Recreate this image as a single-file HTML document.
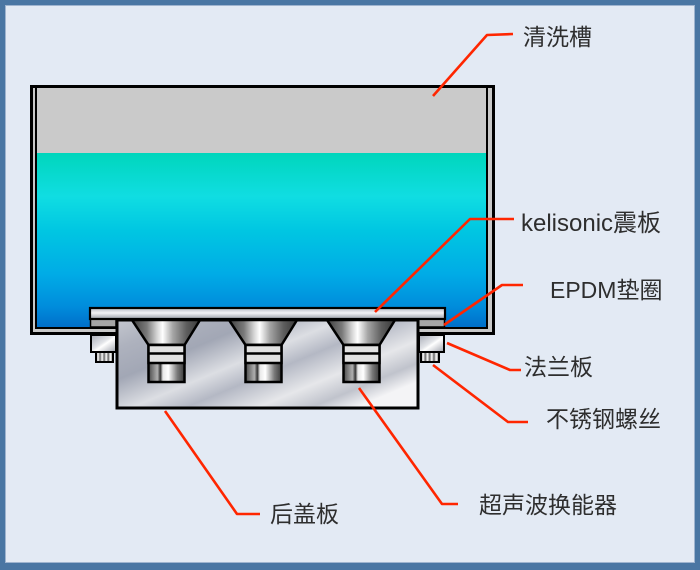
<!DOCTYPE html>
<html><head><meta charset="utf-8"><style>
html,body{margin:0;padding:0;width:700px;height:570px;overflow:hidden;background:#e3eaf4}
svg{display:block}
text{font-family:"Liberation Sans","Noto Sans CJK SC",sans-serif;fill:#2e2e2e}
</style></head><body>
<svg width="700" height="570" viewBox="0 0 700 570" xmlns="http://www.w3.org/2000/svg">
<defs>
<linearGradient id="water" x1="0" y1="0" x2="0" y2="1">
<stop offset="0" stop-color="#00d6bc"/>
<stop offset="0.25" stop-color="#10dde2"/>
<stop offset="0.45" stop-color="#00c6e2"/>
<stop offset="0.7" stop-color="#00abe6"/>
<stop offset="0.88" stop-color="#008ddc"/>
<stop offset="1" stop-color="#006fca"/>
</linearGradient>
<linearGradient id="plate" x1="0" y1="0" x2="0" y2="1">
<stop offset="0" stop-color="#b4b8c2"/>
<stop offset="0.45" stop-color="#f2f2f5"/>
<stop offset="1" stop-color="#989ca6"/>
</linearGradient>
<linearGradient id="box" x1="0" y1="0" x2="1" y2="0.7">
<stop offset="0" stop-color="#c4c7cf"/>
<stop offset="0.15" stop-color="#aeb2be"/>
<stop offset="0.32" stop-color="#a2a7b5"/>
<stop offset="0.5" stop-color="#dcdee3"/>
<stop offset="0.62" stop-color="#b4b8c4"/>
<stop offset="0.78" stop-color="#e6e7ea"/>
<stop offset="0.9" stop-color="#c0c3cc"/>
<stop offset="1" stop-color="#f4f4f6"/>
</linearGradient>
<linearGradient id="metal" x1="0" y1="0" x2="1" y2="0">
<stop offset="0" stop-color="#3e3e3e"/>
<stop offset="0.22" stop-color="#7a7a7a"/>
<stop offset="0.36" stop-color="#d0d0d0"/>
<stop offset="0.45" stop-color="#ffffff"/>
<stop offset="0.6" stop-color="#a6a6a6"/>
<stop offset="0.8" stop-color="#5e5e5e"/>
<stop offset="1" stop-color="#383838"/>
</linearGradient>
<linearGradient id="cyl" x1="0" y1="0" x2="1" y2="0">
<stop offset="0" stop-color="#4a4a4a"/>
<stop offset="0.25" stop-color="#b0b0b0"/>
<stop offset="0.33" stop-color="#333"/>
<stop offset="0.4" stop-color="#e8e8e8"/>
<stop offset="0.55" stop-color="#fff"/>
<stop offset="0.8" stop-color="#7a7a7a"/>
<stop offset="1" stop-color="#3a3a3a"/>
</linearGradient>
<linearGradient id="flange" x1="0" y1="0" x2="1" y2="1">
<stop offset="0" stop-color="#a8acb6"/>
<stop offset="0.45" stop-color="#e2e4e8"/>
<stop offset="0.55" stop-color="#ffffff"/>
<stop offset="1" stop-color="#9ea2ac"/>
</linearGradient>
<linearGradient id="bolt" x1="0" y1="0" x2="1" y2="0">
<stop offset="0" stop-color="#666"/>
<stop offset="0.12" stop-color="#fff"/>
<stop offset="0.24" stop-color="#666"/>
<stop offset="0.36" stop-color="#fff"/>
<stop offset="0.48" stop-color="#666"/>
<stop offset="0.6" stop-color="#fff"/>
<stop offset="0.72" stop-color="#666"/>
<stop offset="0.84" stop-color="#fff"/>
<stop offset="1" stop-color="#666"/>
</linearGradient>
</defs>

<!-- frame -->
<rect x="0" y="0" width="700" height="570" fill="#4a76a3"/>
<rect x="5" y="5" width="690" height="558" fill="#e3eaf4"/>
<rect x="5.5" y="5.5" width="689" height="557" fill="none" stroke="#9fb4cf" stroke-width="1"/>

<!-- tank -->
<rect x="31.5" y="86.5" width="462" height="247" fill="#c8c8c8" stroke="#000" stroke-width="3"/>
<rect x="37" y="88" width="449" height="65" fill="#cacaca"/>
<rect x="37" y="153" width="449" height="174" fill="url(#water)"/>
<path d="M36,87 V328 H487 V87" fill="none" stroke="#000" stroke-width="2"/>

<!-- gaskets -->
<rect x="90.5" y="319" width="25.5" height="8" fill="#a6a6a6" stroke="#000" stroke-width="1.5"/>
<rect x="418" y="319" width="26.5" height="8" fill="#a6a6a6" stroke="#000" stroke-width="1.5"/>

<!-- plate -->
<rect x="90" y="308" width="355" height="11" fill="url(#plate)" stroke="#000" stroke-width="2.2"/>

<!-- rear cover box -->
<rect x="117" y="320" width="301" height="88" fill="url(#box)" stroke="#000" stroke-width="3"/>

<!-- transducers -->
<g stroke="#000">
<polygon points="132,320 200,320 184.5,345 148.5,345" fill="url(#metal)" stroke-width="2.5"/>
<rect x="148.5" y="345" width="36" height="37" fill="url(#cyl)" stroke-width="2.5"/>
<rect x="148.5" y="345" width="36" height="18" fill="#e2e2e2" stroke-width="2.5"/>
<line x1="148.5" y1="353.5" x2="184.5" y2="353.5" stroke-width="2.5"/>

<polygon points="229,320 297,320 281.5,345 245.5,345" fill="url(#metal)" stroke-width="2.5"/>
<rect x="245.5" y="345" width="36" height="37" fill="url(#cyl)" stroke-width="2.5"/>
<rect x="245.5" y="345" width="36" height="18" fill="#e2e2e2" stroke-width="2.5"/>
<line x1="245.5" y1="353.5" x2="281.5" y2="353.5" stroke-width="2.5"/>

<polygon points="327,320 395,320 379.5,345 343.5,345" fill="url(#metal)" stroke-width="2.5"/>
<rect x="343.5" y="345" width="36" height="37" fill="url(#cyl)" stroke-width="2.5"/>
<rect x="343.5" y="345" width="36" height="18" fill="#e2e2e2" stroke-width="2.5"/>
<line x1="343.5" y1="353.5" x2="379.5" y2="353.5" stroke-width="2.5"/>
</g>

<!-- flanges -->
<rect x="91" y="335" width="25" height="17" fill="url(#flange)" stroke="#000" stroke-width="2"/>
<rect x="419" y="335" width="25" height="17" fill="url(#flange)" stroke="#000" stroke-width="2"/>
<!-- bolts -->
<rect x="96" y="352" width="17" height="10" fill="url(#bolt)" stroke="#000" stroke-width="2"/>
<rect x="421" y="352" width="18" height="10" fill="url(#bolt)" stroke="#000" stroke-width="2"/>

<!-- leader lines -->
<g fill="none" stroke="#ff2600" stroke-width="2.6" stroke-linejoin="round">
<polyline points="433,96 487,35 513,34"/>
<polyline points="375,312 470,219 514,219"/>
<polyline points="444,325 502,285 523,285"/>
<polyline points="447,343 510,370 521,370"/>
<polyline points="433,365 508,422 528,422"/>
<polyline points="165,411 237,514 260,514"/>
<polyline points="359,388 442,504 458,504"/>
</g>

<!-- labels -->
<text x="523" y="45" font-size="23">清洗槽</text>
<text x="521" y="231" font-size="24">kelisonic震板</text>
<text x="550" y="298" font-size="23">EPDM垫圈</text>
<text x="524" y="375" font-size="23">法兰板</text>
<text x="546" y="427" font-size="23">不锈钢螺丝</text>
<text x="270" y="522" font-size="23">后盖板</text>
<text x="479" y="513" font-size="23">超声波换能器</text>
</svg>
</body></html>
